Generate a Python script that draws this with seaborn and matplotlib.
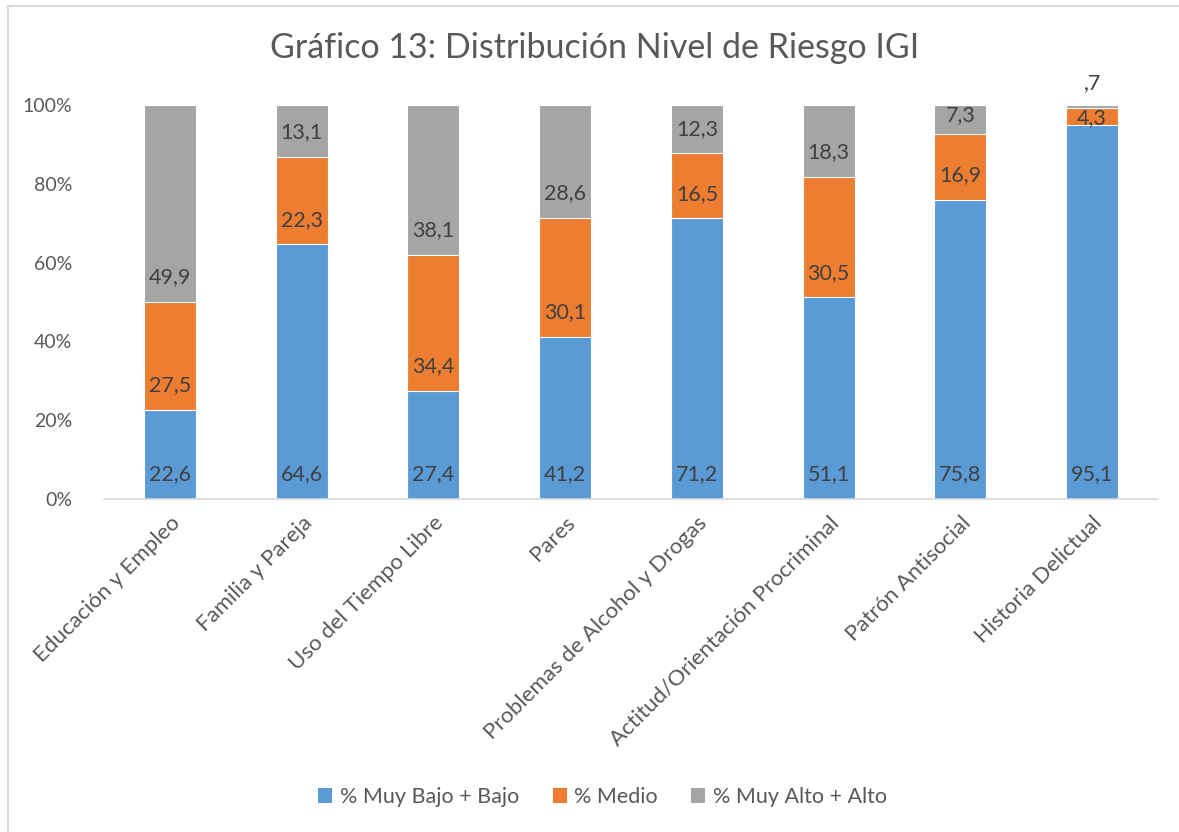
import numpy as np
import pandas as pd
import matplotlib
matplotlib.use("Agg")
import matplotlib.pyplot as plt
import seaborn as sns
from matplotlib.patches import Rectangle, Patch

categorias = ["Educación y Empleo", "Familia y Pareja", "Uso del Tiempo Libre", "Pares",
              "Problemas de Alcohol y Drogas", "Actitud/Orientación Procriminal",
              "Patrón Antisocial", "Historia Delictual"]
bajo = [22.6, 64.6, 27.4, 41.2, 71.2, 51.1, 75.8, 95.1]
medio = [27.5, 22.3, 34.4, 30.1, 16.5, 30.5, 16.9, 4.3]
alto = [49.9, 13.1, 38.1, 28.6, 12.3, 18.3, 7.3, 0.7]
series = ["% Muy Bajo + Bajo", "% Medio", "% Muy Alto + Alto"]
colores = ["#5B9BD5", "#ED7D31", "#A5A5A5"]

sns.set_style("white")
plt.rcParams["font.family"] = ["Lato", "DejaVu Sans"]

df = pd.DataFrame({"cat": categorias, "bajo": bajo, "medio": medio, "alto": alto})
total = df[["bajo", "medio", "alto"]].sum(axis=1)
df["p_bajo"] = df["bajo"] / total * 100
df["p_medio"] = df["medio"] / total * 100
df["p_alto"] = df["alto"] / total * 100
df["c1"] = df["p_bajo"]
df["c2"] = df["p_bajo"] + df["p_medio"]
df["c3"] = df["c2"] + df["p_alto"]

fig = plt.figure(figsize=(11.79, 8.32), dpi=100)
ax = fig.add_axes([0.0882, 0.4002, 0.894, 0.4736])

# barras apiladas: de atrás hacia adelante
for col, color in zip(["c3", "c2", "c1"], colores[::-1]):
    sns.barplot(data=df, x="cat", y=col, color=color, width=0.395,
                edgecolor="white", linewidth=0.8, ax=ax, saturation=1)

# etiquetas en la base de cada segmento
off = 6.3
for i in range(len(df)):
    base = 0.0
    for vcol, pcol in zip(["bajo", "medio", "alto"], ["p_bajo", "p_medio", "p_alto"]):
        v = df.loc[i, vcol]
        h = df.loc[i, pcol]
        top = base + h
        y = base + off
        if h >= 2 and y > top - 2.5:
            y = top - 2.5
        txt = f"{v:.1f}".replace(".", ",")
        if txt.startswith("0"):
            txt = txt[1:]
        ax.text(i, y, txt, ha="center", va="center", fontsize=15.5, color="#404040")
        base = top

ax.set_xlim(-0.5, 7.5)
ax.set_ylim(0, 100)
ax.set_yticks(range(0, 101, 20))
ax.set_yticklabels([f"{t}%" for t in range(0, 101, 20)], fontsize=14, color="#595959")
ax.set_xticks(range(len(categorias)))
ax.set_xticklabels(categorias, rotation=45, ha="right", rotation_mode="anchor",
                   fontsize=16, color="#595959")
ax.tick_params(axis="y", length=0, pad=23)
ax.tick_params(axis="x", length=0, pad=10)
ax.set_xlabel("")
ax.set_ylabel("")
sns.despine(ax=ax, left=True)
ax.spines["bottom"].set_color("#D9D9D9")
ax.spines["bottom"].set_linewidth(1.2)

fig.text(0.5047, 1 - 48 / 832, "Gráfico 13: Distribución Nivel de Riesgo IGI",
         ha="center", va="center", fontsize=24.5, color="#595959")

handles = [Patch(facecolor=c, edgecolor="none") for c in colores]
fig.legend(handles, series, loc="center", bbox_to_anchor=(0.511, 1 - 797 / 832), ncol=3,
           frameon=False, fontsize=15.5, handlelength=0.65, handleheight=0.65,
           handletextpad=0.35, columnspacing=1.55, labelcolor="#595959")

fig.patches.append(Rectangle((8 / 1179, -0.1), 1.2, 1 - 6 / 832 + 0.1, transform=fig.transFigure,
                             fill=False, edgecolor="#D9D9D9", linewidth=1.5))

fig.savefig("out.png", dpi=100)
